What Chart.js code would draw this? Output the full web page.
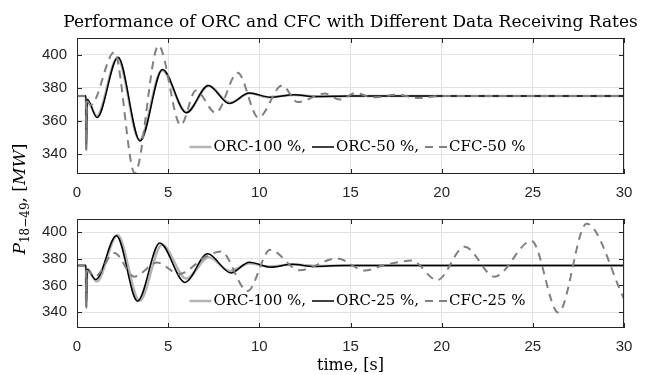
<!DOCTYPE html>
<html>
<head>
<meta charset="utf-8">
<script src="https://cdn.jsdelivr.net/npm/chart.js@4.4.1/dist/chart.umd.min.js"></script>
<style>
  html, body { margin: 0; padding: 0; background: #fff; }
  #wrap { position: relative; width: 645px; height: 375px; overflow: hidden; }
  canvas { position: absolute; left: 0; }
  #topChart { top: 0; }
  #bottomChart { top: 200px; }
  #ylabel { top: 0; }
</style>
</head>
<body>
<div id="wrap">
  <canvas id="topChart" width="645" height="200"></canvas>
  <canvas id="bottomChart" width="645" height="175"></canvas>
  <canvas id="ylabel" width="40" height="375"></canvas>
</div>
<script>
var titleText = 'Performance of ORC and CFC with Different Data Receiving Rates';
var xTitleText = 'time, [s]';
var xTicks = [0, 5, 10, 15, 20, 25, 30];
var yTicks = [340, 360, 380, 400];

// ORC-100 % (same reference run in both panels)
var orc100T = [0, 0.49, 0.51, 0.56, 1.08, 2.22, 3.43, 4.66, 6.0, 7.22, 8.38, 9.47, 10.5, 11.9, 13.2, 15, 30];
var orc100V = [375, 375, 343, 372.5, 363, 398, 348.5, 390.6, 365.2, 381.2, 370.9, 376.7, 374.3, 375.7, 374.7, 375, 375];

// top panel
var orc50T = [0, 0.49, 0.51, 0.56, 1.1, 2.25, 3.46, 4.69, 6.0, 7.2, 8.35, 9.45, 10.6, 11.9, 13.1, 15, 30];
var orc50V = [375, 375, 342.5, 373, 362, 398.4, 347.9, 391, 364.9, 381.4, 370.5, 376.8, 374.3, 375.8, 374.7, 375, 375];
var cfc50T = [0, 0.49, 0.51, 0.54, 0.75, 2.05, 3.17, 4.47, 5.69, 6.52, 7.61, 8.81, 9.95, 11.25, 12.1, 13.6, 14.4, 15.3, 16.2, 17.6, 18.7, 20, 30];
var cfc50V = [375, 375, 342.5, 372, 369.5, 401.4, 328.5, 405.4, 357.5, 378.4, 364.9, 389, 362, 381.4, 371.4, 376.5, 372.9, 376.8, 374.2, 375.8, 373.8, 375, 375];

// bottom panel
var orc25T = [0, 0.49, 0.51, 0.56, 1.03, 2.16, 3.32, 4.54, 5.92, 7.16, 8.44, 9.45, 10.64, 11.8, 13.0, 14.5, 30];
var orc25V = [375, 375, 344, 372, 364.4, 397.4, 348.2, 392, 362.3, 383.8, 369.4, 377.4, 373.7, 375.9, 374.3, 375, 375];
var cfc25T = [0, 0.49, 0.51, 0.54, 1.0, 2.05, 3.13, 4.4, 5.6, 7.07, 7.9, 9.35, 10.6, 12.2, 14.25, 15.8, 16.8, 17.6, 18.35, 19.75, 21.26, 22.9, 24.93, 26.4, 27.95, 30];
var cfc25V = [375, 375, 344, 371, 367, 384.5, 366.6, 377.2, 368.7, 381.7, 385.5, 355.8, 386.8, 371.5, 380.3, 371.2, 375.2, 377.4, 378.7, 364, 389.2, 366.6, 393.5, 339.6, 406.5, 350];

function zip(ts, vs) {
  return ts.map(function (t, i) { return { x: t, y: vs[i] }; });
}

function orc100Set() {
  return { label: 'ORC-100 %,', data: zip(orc100T, orc100V), borderColor: '#b3b3b3', borderWidth: 2.5, order: 3 };
}
function orcSet(label, ts, vs) {
  return { label: label, data: zip(ts, vs), borderColor: '#000000', borderWidth: 1.5, order: 2 };
}
function cfcSet(label, ts, vs) {
  return { label: label, data: zip(ts, vs), borderColor: '#808080', borderWidth: 2, borderDash: [8, 6], order: 1 };
}

// box with inward ticks on all four sides
const boxTicks = {
  id: 'boxTicks',
  afterDraw: function (chart) {
    const ctx = chart.ctx;
    const a = chart.chartArea;
    const xs = chart.scales.x, ys = chart.scales.y;
    ctx.save();
    ctx.strokeStyle = '#262626';
    ctx.lineWidth = 1;
    ctx.beginPath();
    xTicks.forEach(function (v) {
      const px = Math.round(xs.getPixelForValue(v)) + 0.5;
      ctx.moveTo(px, a.top); ctx.lineTo(px, a.top + 5);
      ctx.moveTo(px, a.bottom); ctx.lineTo(px, a.bottom - 5);
    });
    yTicks.forEach(function (v) {
      const py = Math.round(ys.getPixelForValue(v)) + 0.5;
      ctx.moveTo(a.left, py); ctx.lineTo(a.left + 5, py);
      ctx.moveTo(a.right, py); ctx.lineTo(a.right - 5, py);
    });
    ctx.stroke();
    ctx.strokeRect(Math.round(a.left) + 0.5, Math.round(a.top) + 0.5,
      Math.round(a.right - a.left) - 1, Math.round(a.bottom - a.top) - 1);
    ctx.restore();
  }
};

// title centred over the plot box, allowed to run past its edges
const plotTitle = {
  id: 'plotTitle',
  afterDraw: function (chart, args, opts) {
    if (!opts.text) return;
    const ctx = chart.ctx;
    const a = chart.chartArea;
    ctx.save();
    ctx.font = '17px "DejaVu Serif"';
    ctx.fillStyle = '#000';
    ctx.textAlign = 'center';
    ctx.textBaseline = 'alphabetic';
    ctx.fillText(opts.text, (a.left + a.right) / 2, a.top - 11);
    ctx.restore();
  }
};

// horizontal legend without box, near the bottom of the plot
const inlineLegend = {
  id: 'inlineLegend',
  afterDraw: function (chart) {
    const ctx = chart.ctx;
    const a = chart.chartArea;
    const sets = chart.data.datasets;
    const iconW = 22, gap = 2, sep = 6;
    ctx.save();
    ctx.font = '15px "DejaVu Serif"';
    ctx.textBaseline = 'middle';
    let total = 0;
    sets.forEach(function (d, i) {
      total += iconW + gap + ctx.measureText(d.label).width + (i < sets.length - 1 ? sep : 0);
    });
    let x = (a.left + a.right) / 2 - total / 2 + 7;
    const yc = a.bottom - 27;
    sets.forEach(function (d) {
      ctx.strokeStyle = d.borderColor;
      ctx.lineWidth = d.borderWidth;
      ctx.setLineDash(d.borderDash || []);
      ctx.beginPath();
      ctx.moveTo(x, yc);
      ctx.lineTo(x + iconW, yc);
      ctx.stroke();
      ctx.setLineDash([]);
      ctx.fillStyle = '#000';
      ctx.fillText(d.label, x + iconW + gap, yc);
      x += iconW + gap + ctx.measureText(d.label).width + sep;
    });
    ctx.restore();
  }
};

function makeChart(id, datasets, title, withXTitle, padTop, xAxisHeight) {
  return new Chart(document.getElementById(id).getContext('2d'), {
    type: 'line',
    data: { datasets: datasets },
    options: {
      responsive: false,
      animation: false,
      devicePixelRatio: 1,
      layout: { padding: { left: 0, right: 21, top: padTop, bottom: 0 } },
      elements: {
        point: { radius: 0 },
        line: { tension: 0.4, cubicInterpolationMode: 'monotone', fill: false }
      },
      plugins: {
        legend: { display: false },
        tooltip: { enabled: false },
        title: { display: false },
        plotTitle: { text: title }
      },
      scales: {
        x: {
          type: 'linear',
          min: 0,
          max: 30,
          afterBuildTicks: function (axis) { axis.ticks = xTicks.map(function (v) { return { value: v }; }); },
          afterFit: function (axis) { axis.height = xAxisHeight; },
          ticks: { color: '#262626', font: { family: '"Liberation Sans"', size: 15 }, padding: 10, maxRotation: 0 },
          grid: { color: '#e2e2e2', drawTicks: false },
          border: { display: false },
          title: {
            display: withXTitle,
            text: xTitleText,
            color: '#000',
            font: { family: '"DejaVu Serif"', size: 16 },
            padding: { top: 0, bottom: 0 }
          }
        },
        y: {
          min: 328,
          max: 410,
          afterBuildTicks: function (axis) { axis.ticks = yTicks.map(function (v) { return { value: v }; }); },
          afterFit: function (axis) { axis.width = 77; },
          ticks: { color: '#262626', font: { family: '"Liberation Sans"', size: 15 }, padding: 10 },
          grid: { color: '#e2e2e2', drawTicks: false },
          border: { display: false }
        }
      }
    },
    plugins: [boxTicks, plotTitle, inlineLegend]
  });
}

var topChart = makeChart('topChart', [
  orc100Set(),
  orcSet('ORC-50 %,', orc50T, orc50V),
  cfcSet('CFC-50 %', cfc50T, cfc50V)
], titleText, false, 38, 26);

var bottomChart = makeChart('bottomChart', [
  orc100Set(),
  orcSet('ORC-25 %,', orc25T, orc25V),
  cfcSet('CFC-25 %', cfc25T, cfc25V)
], '', true, 2, 47);

// shared y-axis title spanning both panels
(function () {
  var ctx = document.getElementById('ylabel').getContext('2d');
  var parts = [
    { text: 'P', font: 'italic 17px "DejaVu Serif"', dy: 0 },
    { text: '18\u221249', font: '12px "DejaVu Serif"', dy: 4 },
    { text: ', [', font: '17px "DejaVu Serif"', dy: 0 },
    { text: 'MW', font: 'italic 17px "DejaVu Serif"', dy: 0 },
    { text: ']', font: '17px "DejaVu Serif"', dy: 0 }
  ];
  var total = 0;
  parts.forEach(function (p) { ctx.font = p.font; p.w = ctx.measureText(p.text).width; total += p.w; });
  ctx.save();
  ctx.translate(25, 199);
  ctx.rotate(-Math.PI / 2);
  ctx.fillStyle = '#000';
  ctx.textBaseline = 'alphabetic';
  var x = -total / 2;
  parts.forEach(function (p) {
    ctx.font = p.font;
    ctx.fillText(p.text, x, p.dy);
    x += p.w;
  });
  ctx.restore();
})();
</script>
</body>
</html>
